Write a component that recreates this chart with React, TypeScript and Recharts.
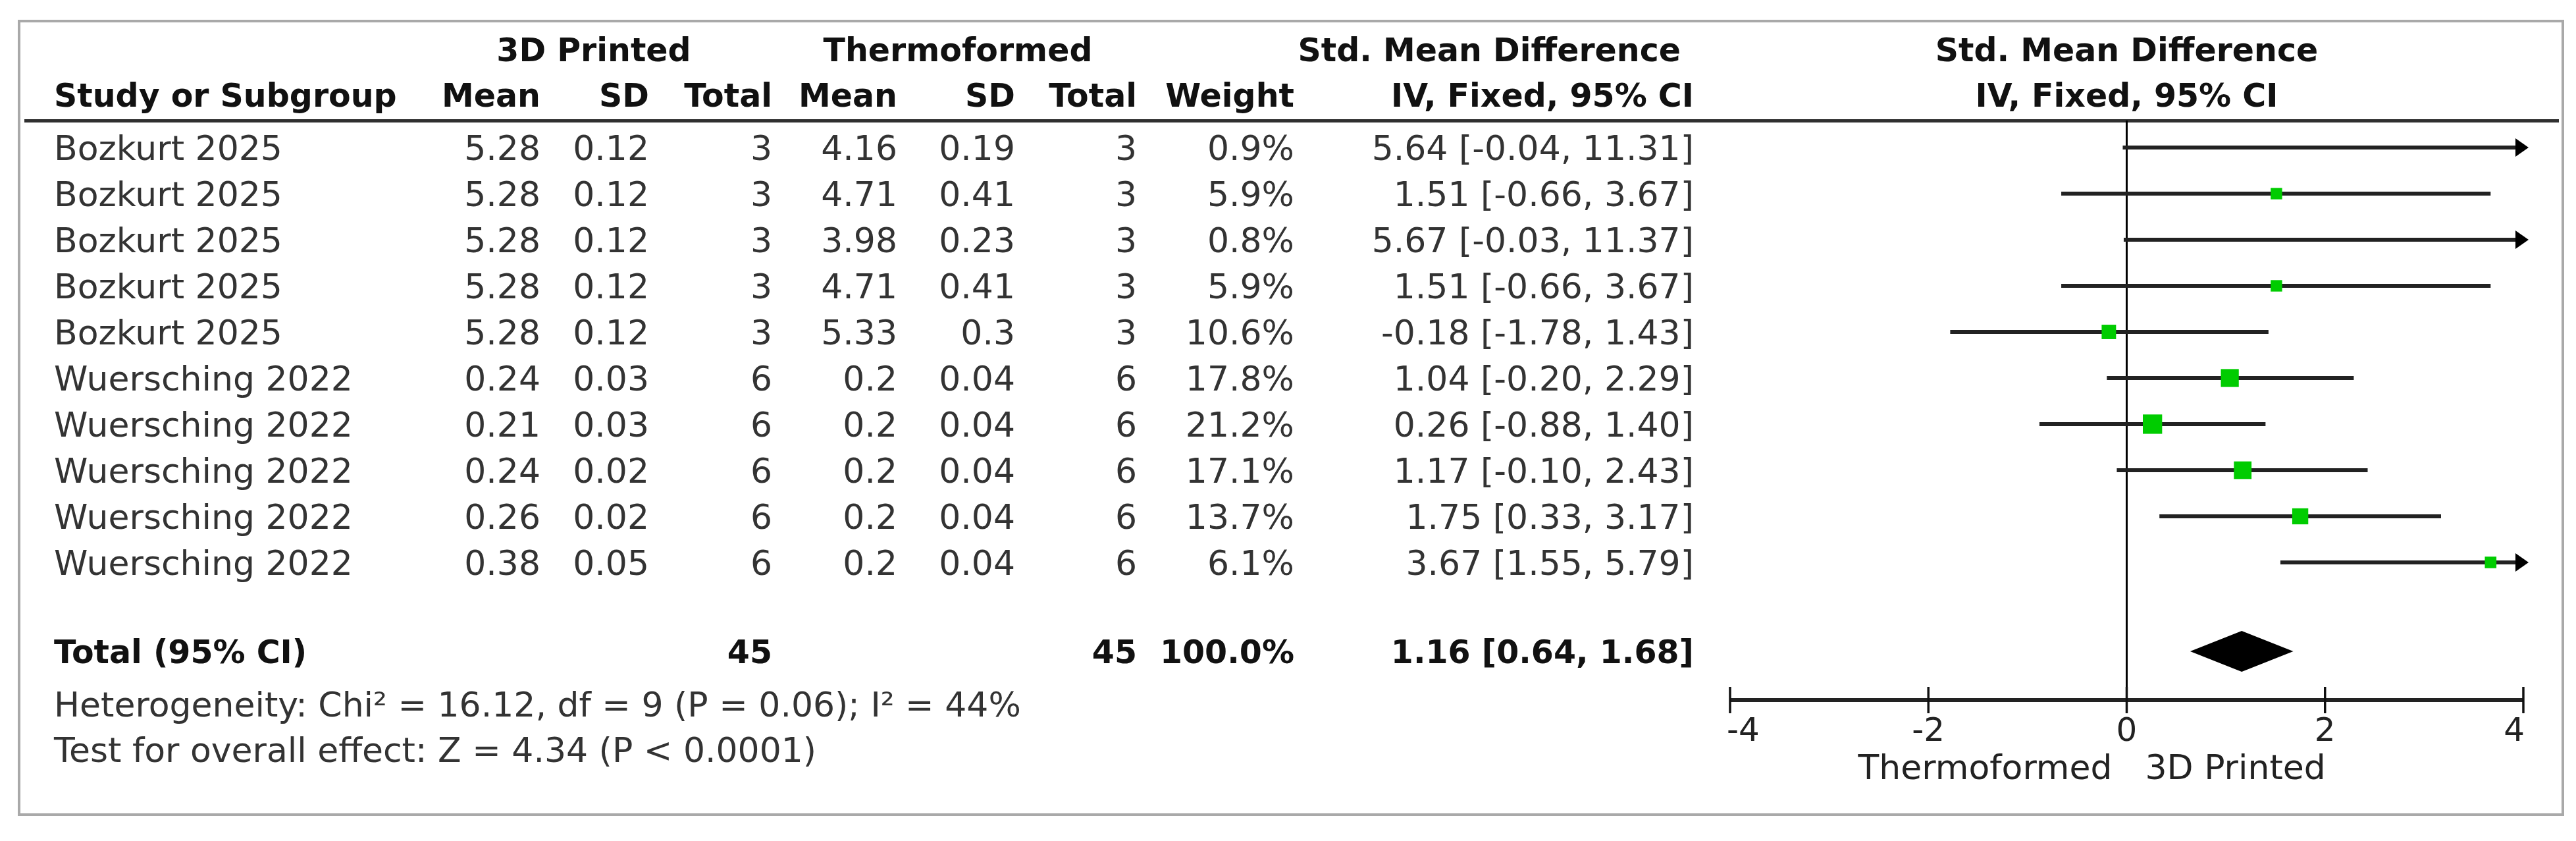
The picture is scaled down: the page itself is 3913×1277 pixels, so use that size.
import React from 'react';
import { ComposedChart, XAxis, YAxis, Scatter, ReferenceLine, ReferenceArea } from 'recharts';

// ---------- data ----------
const studyNames = [
  'Bozkurt 2025', 'Bozkurt 2025', 'Bozkurt 2025', 'Bozkurt 2025', 'Bozkurt 2025',
  'Wuersching 2022', 'Wuersching 2022', 'Wuersching 2022', 'Wuersching 2022', 'Wuersching 2022',
];
const expMean = ['5.28', '5.28', '5.28', '5.28', '5.28', '0.24', '0.21', '0.24', '0.26', '0.38'];
const expSD = ['0.12', '0.12', '0.12', '0.12', '0.12', '0.03', '0.03', '0.02', '0.02', '0.05'];
const expN = [3, 3, 3, 3, 3, 6, 6, 6, 6, 6];
const ctlMean = ['4.16', '4.71', '3.98', '4.71', '5.33', '0.2', '0.2', '0.2', '0.2', '0.2'];
const ctlSD = ['0.19', '0.41', '0.23', '0.41', '0.3', '0.04', '0.04', '0.04', '0.04', '0.04'];
const ctlN = [3, 3, 3, 3, 3, 6, 6, 6, 6, 6];
const weights = [0.9, 5.9, 0.8, 5.9, 10.6, 17.8, 21.2, 17.1, 13.7, 6.1];
const smd = [5.64, 1.51, 5.67, 1.51, -0.18, 1.04, 0.26, 1.17, 1.75, 3.67];
const ciLow = [-0.04, -0.66, -0.03, -0.66, -1.78, -0.2, -0.88, -0.1, 0.33, 1.55];
const ciHigh = [11.31, 3.67, 11.37, 3.67, 1.43, 2.29, 1.4, 2.43, 3.17, 5.79];

const totalExpN = 45;
const totalCtlN = 45;
const totalWeight = 100.0;
const totalSmd = 1.16;
const totalLow = 0.64;
const totalHigh = 1.68;

const heterogeneity = { chi2: '16.12', df: 9, p: '0.06', i2: 44 };
const overall = { z: '4.34', p: '< 0.0001' };

const axisTicks = [-4, -2, 0, 2, 4];
const axisTickLabels = ['-4', '-2', '0', '2', '4'];
const axisMin = -4;
const axisMax = 4;
const favoursLeft = 'Thermoformed';
const favoursRight = '3D Printed';
const groupA = '3D Printed';
const groupB = 'Thermoformed';

// ---------- layout (row positions on the vertical scale) ----------
const Y_DOMAIN: [number, number] = [-3.2, 15.0429];
const HEADER1_Y = -2.129;
const HEADER2_Y = -1.143;
const RULE_Y = -0.586;
const TOTAL_Y = 10.929;
const AXIS_Y = 11.986;
const TICK_LABEL_Y = 12.614;
const HET_Y = 12.071;
const TEST_Y = 13.057;
const LEGEND_Y = 13.43;
const DIAMOND_HALF = 0.443;
const TICK_UP = 0.286;
const TICK_DOWN = 0.286;

const COL = { name: 82, eMean: 821, eSD: 986, eN: 1173, cMean: 1363, cSD: 1542, cN: 1727, weight: 1966, ci: 2573 };

const FONT = 'DejaVu Sans';
const REG = 52;
const BOLD = 49;
const TXT = '#333';
const BTXT = '#111';

const fmt2 = (v: number) => v.toFixed(2);
const ciText = (e: number, l: number, h: number) => `${fmt2(e)} [${fmt2(l)}, ${fmt2(h)}]`;

const rows = studyNames.map((name, i) => ({
  x: 0,
  y: i,
  name,
  eMean: expMean[i],
  eSD: expSD[i],
  eN: expN[i],
  cMean: ctlMean[i],
  cSD: ctlSD[i],
  cN: ctlN[i],
  weight: weights[i],
  smd: smd[i],
  lo: ciLow[i],
  hi: ciHigh[i],
}));

const squares = rows
  .filter((r) => r.smd >= axisMin && r.smd <= axisMax)
  .map((r) => ({ x: r.smd, y: r.y, weight: r.weight }));

const ciSegments = rows.map((r) => [
  { x: Math.max(r.lo, axisMin), y: r.y },
  { x: Math.min(r.hi, axisMax), y: r.y },
]);

const arrowsRight = rows.filter((r) => r.hi > axisMax).map((r) => ({ x: axisMax, y: r.y }));
const arrowsLeft = rows.filter((r) => r.lo < axisMin).map((r) => ({ x: axisMin, y: r.y }));

const tickLabelData = axisTicks.map((t, i) => ({ x: t, y: TICK_LABEL_Y, label: axisTickLabels[i], idx: i }));

// ---------- shapes ----------
const StudyRow = (p: any) => {
  const { cy, payload } = p;
  const b = cy + 19;
  return (
    <g fontFamily={FONT} fontSize={REG} fill={TXT}>
      <text x={COL.name} y={b}>{payload.name}</text>
      <text x={COL.eMean} y={b} textAnchor="end">{payload.eMean}</text>
      <text x={COL.eSD} y={b} textAnchor="end">{payload.eSD}</text>
      <text x={COL.eN} y={b} textAnchor="end">{payload.eN}</text>
      <text x={COL.cMean} y={b} textAnchor="end">{payload.cMean}</text>
      <text x={COL.cSD} y={b} textAnchor="end">{payload.cSD}</text>
      <text x={COL.cN} y={b} textAnchor="end">{payload.cN}</text>
      <text x={COL.weight} y={b} textAnchor="end">{payload.weight.toFixed(1)}%</text>
      <text x={COL.ci} y={b} textAnchor="end">{ciText(payload.smd, payload.lo, payload.hi)}</text>
    </g>
  );
};

const Header1 = (p: any) => {
  const { cx, cy } = p;
  const b = cy + 18;
  return (
    <g fontFamily={FONT} fontSize={BOLD} fontWeight="bold" fill={BTXT}>
      <text x={902} y={b} textAnchor="middle">{groupA}</text>
      <text x={1455} y={b} textAnchor="middle">{groupB}</text>
      <text x={2553} y={b} textAnchor="end">Std. Mean Difference</text>
      <text x={cx} y={b} textAnchor="middle">Std. Mean Difference</text>
    </g>
  );
};

const Header2 = (p: any) => {
  const { cx, cy } = p;
  const b = cy + 18;
  return (
    <g fontFamily={FONT} fontSize={BOLD} fontWeight="bold" fill={BTXT}>
      <text x={COL.name} y={b}>Study or Subgroup</text>
      <text x={COL.eMean} y={b} textAnchor="end">Mean</text>
      <text x={COL.eSD} y={b} textAnchor="end">SD</text>
      <text x={COL.eN} y={b} textAnchor="end">Total</text>
      <text x={COL.cMean} y={b} textAnchor="end">Mean</text>
      <text x={COL.cSD} y={b} textAnchor="end">SD</text>
      <text x={COL.cN} y={b} textAnchor="end">Total</text>
      <text x={COL.weight} y={b} textAnchor="end">Weight</text>
      <text x={COL.ci} y={b} textAnchor="end">IV, Fixed, 95% CI</text>
      <text x={cx} y={b} textAnchor="middle">IV, Fixed, 95% CI</text>
    </g>
  );
};

const TotalRow = (p: any) => {
  const { cy } = p;
  const b = cy + 18;
  return (
    <g fontFamily={FONT} fontSize={BOLD} fontWeight="bold" fill={BTXT}>
      <text x={COL.name} y={b}>Total (95% CI)</text>
      <text x={COL.eN} y={b} textAnchor="end">{totalExpN}</text>
      <text x={COL.cN} y={b} textAnchor="end">{totalCtlN}</text>
      <text x={COL.weight} y={b} textAnchor="end">{totalWeight.toFixed(1)}%</text>
      <text x={COL.ci} y={b} textAnchor="end">{ciText(totalSmd, totalLow, totalHigh)}</text>
    </g>
  );
};

const HetRow = (p: any) => {
  const { cy } = p;
  const b = cy + 19;
  return (
    <text x={COL.name} y={b} fontFamily={FONT} fontSize={REG} fill={TXT}>
      {`Heterogeneity: Chi² = ${heterogeneity.chi2}, df = ${heterogeneity.df} (P = ${heterogeneity.p}); I² = ${heterogeneity.i2}%`}
    </text>
  );
};

const TestRow = (p: any) => {
  const { cy } = p;
  const b = cy + 19;
  return (
    <text x={COL.name} y={b} fontFamily={FONT} fontSize={REG} fill={TXT}>
      {`Test for overall effect: Z = ${overall.z} (P ${overall.p})`}
    </text>
  );
};

const LegendRow = (p: any) => {
  const { cx, cy } = p;
  const b = cy + 19;
  return (
    <g fontFamily={FONT} fontSize={REG} fill="#222">
      <text x={cx - 22} y={b} textAnchor="end">{favoursLeft}</text>
      <text x={cx + 28} y={b}>{favoursRight}</text>
    </g>
  );
};

const TickLabel = (p: any) => {
  const { cx, cy, payload } = p;
  const last = axisTicks.length - 1;
  const anchor = payload.idx === 0 ? 'start' : payload.idx === last ? 'end' : 'middle';
  const x = payload.idx === 0 ? cx - 5 : payload.idx === last ? cx + 2 : cx;
  return (
    <text x={x} y={cy + 18} textAnchor={anchor} fontFamily={FONT} fontSize={50} fill="#222">
      {payload.label}
    </text>
  );
};

const SquareShape = (p: any) => {
  const { cx, cy, payload } = p;
  const s = 5.5 * Math.sqrt(payload.weight) + 4;
  return <rect x={cx - s / 2} y={cy - s / 2} width={s} height={s} fill="#00cc00" />;
};

const ArrowRight = (p: any) => {
  const { cx, cy } = p;
  return <polygon points={`${cx - 12},${cy - 14} ${cx + 8},${cy} ${cx - 12},${cy + 14}`} fill="#000" />;
};
const ArrowLeft = (p: any) => {
  const { cx, cy } = p;
  return <polygon points={`${cx + 12},${cy - 14} ${cx - 8},${cy} ${cx + 12},${cy + 14}`} fill="#000" />;
};

const Diamond = (p: any) => {
  const { x, y, width, height } = p;
  const pts = `${x},${y + height / 2} ${x + width / 2},${y} ${x + width},${y + height / 2} ${x + width / 2},${y + height}`;
  return <polygon points={pts} fill="#000" />;
};

const Nothing = () => <g />;

export default function App() {
  return (
    <div style={{ position: 'absolute', left: 0, top: 0, width: 3913, height: 1277, background: '#fff' }}>
      <div
        style={{
          position: 'absolute',
          left: 27,
          top: 30,
          width: 3868,
          height: 1209,
          border: '4px solid #a9a9a9',
          boxSizing: 'border-box',
        }}
      />
      <div style={{ position: 'absolute', left: 37, top: 181, width: 3850, height: 5, background: '#303030' }} />
      <div style={{ position: 'absolute', left: 0, top: 0 }}>
        <ComposedChart width={3913} height={1277} margin={{ top: 0, right: 80, bottom: 0, left: 2628 }}>
          <XAxis type="number" dataKey="x" domain={[axisMin, axisMax]} hide />
          <YAxis type="number" dataKey="y" domain={Y_DOMAIN} reversed hide />

          {/* vertical line of no effect */}
          <ReferenceLine
            segment={[{ x: 0, y: RULE_Y }, { x: 0, y: AXIS_Y }]}
            stroke="#000"
            strokeWidth={3}
          />
          {/* axis line */}
          <ReferenceLine
            segment={[{ x: axisMin, y: AXIS_Y }, { x: axisMax, y: AXIS_Y }]}
            stroke="#222"
            strokeWidth={6}
          />
          {axisTicks.map((t) => (
            <ReferenceLine
              key={`tk${t}`}
              segment={[{ x: t, y: AXIS_Y - TICK_UP }, { x: t, y: AXIS_Y + TICK_DOWN }]}
              stroke="#111"
              strokeWidth={3.5}
            />
          ))}

          {/* confidence interval lines */}
          {ciSegments.map((seg, i) => (
            <Scatter
              key={`ci${i}`}
              data={seg}
              line={{ stroke: '#222', strokeWidth: 6 }}
              lineType="joint"
              shape={Nothing}
              isAnimationActive={false}
              legendType="none"
            />
          ))}

          <Scatter data={squares} shape={SquareShape} isAnimationActive={false} legendType="none" />
          <Scatter data={arrowsRight} shape={ArrowRight} isAnimationActive={false} legendType="none" />
          <Scatter data={arrowsLeft} shape={ArrowLeft} isAnimationActive={false} legendType="none" />

          {/* pooled estimate */}
          <ReferenceArea
            x1={totalLow}
            x2={totalHigh}
            y1={TOTAL_Y - DIAMOND_HALF}
            y2={TOTAL_Y + DIAMOND_HALF}
            shape={Diamond}
          />

          {/* table text rows */}
          <Scatter data={rows} shape={StudyRow} isAnimationActive={false} legendType="none" />
          <Scatter data={[{ x: 0, y: HEADER1_Y }]} shape={Header1} isAnimationActive={false} legendType="none" />
          <Scatter data={[{ x: 0, y: HEADER2_Y }]} shape={Header2} isAnimationActive={false} legendType="none" />
          <Scatter data={[{ x: 0, y: TOTAL_Y }]} shape={TotalRow} isAnimationActive={false} legendType="none" />
          <Scatter data={[{ x: 0, y: HET_Y }]} shape={HetRow} isAnimationActive={false} legendType="none" />
          <Scatter data={[{ x: 0, y: TEST_Y }]} shape={TestRow} isAnimationActive={false} legendType="none" />
          <Scatter data={[{ x: 0, y: LEGEND_Y }]} shape={LegendRow} isAnimationActive={false} legendType="none" />
          <Scatter data={tickLabelData} shape={TickLabel} isAnimationActive={false} legendType="none" />
        </ComposedChart>
      </div>
    </div>
  );
}
